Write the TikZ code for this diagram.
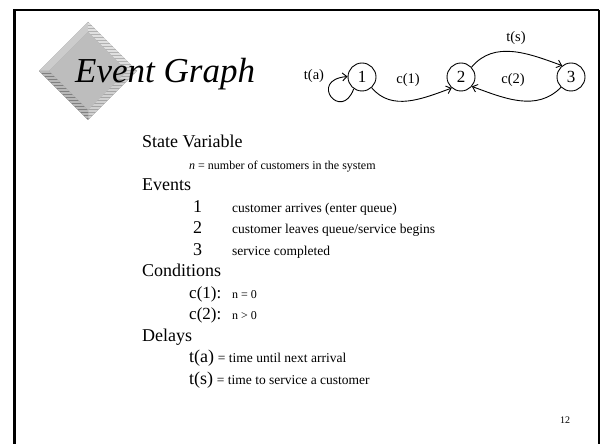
\documentclass[tikz,border=0pt]{standalone}
\usepackage{fontspec}
\setmainfont{Liberation Serif}
\usetikzlibrary{arrows.meta}
\begin{document}
\begin{tikzpicture}[x=1pt,y=1pt,
  hdr/.style={anchor=base west, inner sep=0pt, font=\fontsize{18}{18}\selectfont},
  big/.style={anchor=base west, inner sep=0pt, font=\fontsize{18}{18}\selectfont},
  cnd/.style={anchor=base west, inner sep=0pt, font=\fontsize{17}{17}\selectfont},
  desc/.style={anchor=base west, inner sep=0pt, font=\fontsize{13.5}{13.5}\selectfont},
  sml/.style={anchor=base west, inner sep=0pt, font=\fontsize{12}{12}\selectfont},
  ev/.style={draw, circle, line width=0.9pt, minimum size=28pt, inner sep=0pt, font=\fontsize{17}{17}\selectfont},
  lbl/.style={inner sep=0pt, font=\fontsize{14.5}{14.5}\selectfont},
  arr/.style={line width=0.9pt, -{Straight Barb[length=4.5pt,width=8pt]}},
  frameline/.style={line width=2.2pt, black}
]
\useasboundingbox (0,0) rectangle (602,444);
\clip (0,0) rectangle (602,444);
% frame
\draw[frameline] (14.5,-10) -- (14.5,434) -- (599,434);
\draw[line width=1.4pt] (599,434) -- (599,-10);
% diamond logo
\fill[black!40] (88,422)--(137,373)--(88,324)--(39,373)--cycle;
\fill[black!20] (39,373)--(88,422)--(88,412)--(49,373)--cycle;
\begin{scope}
\clip (88,422)--(137,373)--(127,373)--(88,412)--cycle;
\fill[black!30] (39,324) rectangle (137,422);
\foreach \yy in {324,327,...,423} \draw[black!12, line width=1.3pt] (39,\yy)--(137,\yy);
\end{scope}
\begin{scope}
\clip (137,373)--(88,324)--(88,334)--(127,373)--cycle;
\fill[black!35] (39,324) rectangle (137,422);
\foreach \yy in {324,327,...,423} \draw[black!18, line width=1.3pt] (39,\yy)--(137,\yy);
\end{scope}
\begin{scope}
\clip (88,324)--(39,373)--(49,373)--(88,334)--cycle;
\fill[black!50] (39,324) rectangle (137,422);
\foreach \yy in {324,327,...,423} \draw[black!28, line width=1.3pt] (39,\yy)--(137,\yy);
\end{scope}
\fill[black!26] (88,412)--(127,373)--(88,334)--(49,373)--cycle;
% title
\node[anchor=base west, inner sep=0pt, font=\fontsize{35}{35}\selectfont\itshape] (title) at (75,361) {Event Graph};
% event graph
\node[ev] (n1) at (362,367) {1};
\node[ev] (n2) at (461,367) {2};
\node[ev] (n3) at (571,367) {3};
\node[lbl] (ta) at (314,368) {t(a)};
\node[lbl] (c1) at (408,364) {c(1)};
\node[lbl] (c2) at (513,364) {c(2)};
\node[lbl] (ts) at (516,406) {t(s)};
\draw[arr] (n1.235) .. controls +(250:36) and +(185:40) .. (n1.178);
\draw[arr] (n1.-48) to[out=-50, in=200] (n2.-130);
\draw[arr] (n2.43) to[out=50, in=160] (n3.128);
\draw[arr] (n3.-134) to[out=-135, in=-20] (n2.-41);
% text body
\node[hdr] (sv) at (142,296) {State Variable};
\node[sml] (nline) at (189,274.5) {\textit{n} = number of customers in the system};
\node[hdr] (evh) at (142,253) {Events};
\node[big] (e1) at (193,231.5) {1};
\node[desc] (d1) at (232,231.5) {customer arrives (enter queue)};
\node[big] (e2) at (193,210) {2};
\node[desc] (d2) at (232,210) {customer leaves queue/service begins};
\node[big] (e3) at (193,188.5) {3};
\node[desc] (d3) at (232,188.5) {service completed};
\node[hdr] (cond) at (142,167) {Conditions};
\node[cnd] (cc1) at (189,145.5) {c(1):};
\node[sml] (cv1) at (232,145.5) {n = 0};
\node[cnd] (cc2) at (189,124) {c(2):};
\node[sml] (cv2) at (232,124) {n > 0};
\node[hdr] (del) at (142,102.5) {Delays};
\node[big] (ta2) at (189,81) {t(a)};
\node[desc, anchor=base west] (tad) at (ta2.base east) {\ = time until next arrival};
\node[big] (ts2) at (189,59.5) {t(s)};
\node[desc, anchor=base west] (tsd) at (ts2.base east) {\ = time to service a customer};
\node[anchor=base west, inner sep=0pt, font=\fontsize{10}{10}\selectfont] (pg) at (560,20) {12};
\end{tikzpicture}
\end{document}
